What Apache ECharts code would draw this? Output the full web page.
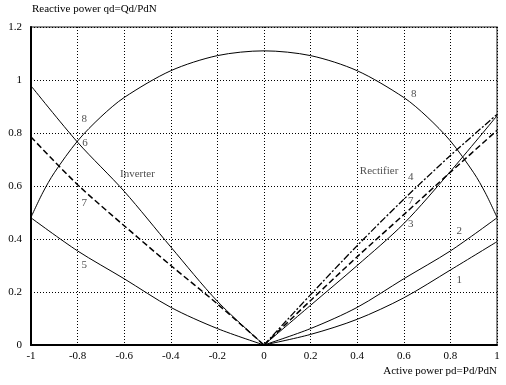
<!DOCTYPE html>
<html>
<head>
<meta charset="utf-8">
<script src="https://cdn.jsdelivr.net/npm/echarts@6/dist/echarts.min.js"></script>
<style>
  html, body { margin: 0; padding: 0; background: #fff; }
  #chart { width: 506px; height: 385px; }
</style>
</head>
<body>
<div id="chart"></div>
<script>
// Converter operating curves in the PQ plane (per-unit values)
var curve1 = [[0, 0], [0.2, 0.04], [0.4, 0.097], [0.6, 0.178], [0.8, 0.283], [1, 0.39]];
var curve2 = [[0, 0], [0.2, 0.062], [0.4, 0.142], [0.6, 0.25], [0.8, 0.355], [1, 0.48]];
var curve3 = [[0, 0], [0.2, 0.15], [0.4, 0.3], [0.6, 0.458], [0.8, 0.655], [1, 0.865]];
var curve4 = [[0, 0], [0.2, 0.19], [0.4, 0.375], [0.6, 0.55], [0.8, 0.715], [1, 0.87]];
var curve7R = [[0, 0], [0.2, 0.168], [0.4, 0.333], [0.6, 0.492], [0.8, 0.652], [1, 0.81]];
var curve5 = [[-1, 0.48], [-0.8, 0.355], [-0.6, 0.25], [-0.4, 0.142], [-0.2, 0.062], [0, 0]];
var curve6 = [[-1, 0.978], [-0.8, 0.765], [-0.6, 0.58], [-0.4, 0.37], [-0.2, 0.165], [0, 0]];
var curve7L = [[-1, 0.785], [-0.8, 0.605], [-0.6, 0.45], [-0.4, 0.3], [-0.2, 0.155], [0, 0]];
var curve8 = [[-1, 0.482], [-0.95, 0.574], [-0.9, 0.65], [-0.8, 0.77], [-0.7, 0.861], [-0.6, 0.934],
              [-0.4, 1.035], [-0.2, 1.092], [0, 1.11], [0.2, 1.092], [0.4, 1.035], [0.6, 0.934],
              [0.7, 0.861], [0.8, 0.77], [0.9, 0.65], [0.95, 0.574], [1, 0.482]];

// Curve numbers and region names placed in data coordinates
var curveLabels = [
  { name: '8', value: [-0.771, 0.854] },
  { name: '6', value: [-0.768, 0.762] },
  { name: '7', value: [-0.771, 0.536] },
  { name: '5', value: [-0.771, 0.302] },
  { name: '8', value: [0.643, 0.948] },
  { name: '4', value: [0.63, 0.632] },
  { name: '7', value: [0.63, 0.542] },
  { name: '3', value: [0.63, 0.455] },
  { name: '2', value: [0.838, 0.43] },
  { name: '1', value: [0.838, 0.243] },
  { name: 'Inverter', value: [-0.543, 0.645] },
  { name: 'Rectifier', value: [0.494, 0.655] }
];

var xTicks = { min: -1, max: 1, step: 0.2 };
var yTicks = { min: 0, max: 1.2, step: 0.2 };
var xTitle = 'Active power pd=Pd/PdN';
var yTitle = 'Reactive power qd=Qd/PdN';

var FONT = '"Liberation Serif", "Times New Roman", serif';

function fmt(v) { return String(Math.round(v * 10) / 10); }

function line(data, type, width) {
  return {
    type: 'line', data: data, symbol: 'none', smooth: 0.3, silent: true,
    lineStyle: { color: '#000', width: width || 1, type: type || 'solid' },
    z: 3
  };
}

var chart = echarts.init(document.getElementById('chart'), null, { renderer: 'canvas' });
chart.setOption({
  animation: false,
  backgroundColor: '#fff',
  grid: {
    left: 31, right: 9, top: 27, bottom: 40,
    show: true, borderColor: '#666', borderWidth: 1.5, backgroundColor: 'transparent'
  },
  xAxis: {
    type: 'value', min: xTicks.min, max: xTicks.max, interval: xTicks.step,
    axisLine: { show: true, onZero: false, lineStyle: { color: '#000', width: 2 } },
    axisTick: { show: false },
    axisLabel: { formatter: fmt, color: '#000', fontFamily: FONT, fontSize: 11, margin: 6 },
    splitLine: { show: true, lineStyle: { color: '#000', type: [1, 2], width: 1 } }
  },
  yAxis: {
    type: 'value', min: yTicks.min, max: yTicks.max, interval: yTicks.step,
    axisLine: { show: true, onZero: false, lineStyle: { color: '#000', width: 2 } },
    axisTick: { show: false },
    axisLabel: { formatter: fmt, color: '#000', fontFamily: FONT, fontSize: 11, margin: 9 },
    splitLine: { show: true, lineStyle: { color: '#000', type: [1, 2], width: 1 } }
  },
  graphic: [
    { type: 'text', left: 32, top: 4,
      style: { text: yTitle, font: '11px ' + FONT, fill: '#000' } },
    { type: 'text', right: 9, top: 366,
      style: { text: xTitle, font: '11px ' + FONT, fill: '#000' } }
  ],
  series: [
    line(curve8),
    line(curve1),
    line(curve2),
    line(curve3),
    line(curve4, [7, 2, 2, 2], 1.3),
    line(curve7R, [6, 3], 1.5),
    line(curve5),
    line(curve6),
    line(curve7L, [6, 3], 1.5),
    {
      type: 'scatter', data: curveLabels, symbolSize: 0, silent: true, z: 5,
      label: {
        show: true, position: 'inside', formatter: '{b}',
        color: '#222', fontFamily: FONT, fontSize: 11
      }
    }
  ]
});
</script>
</body>
</html>
